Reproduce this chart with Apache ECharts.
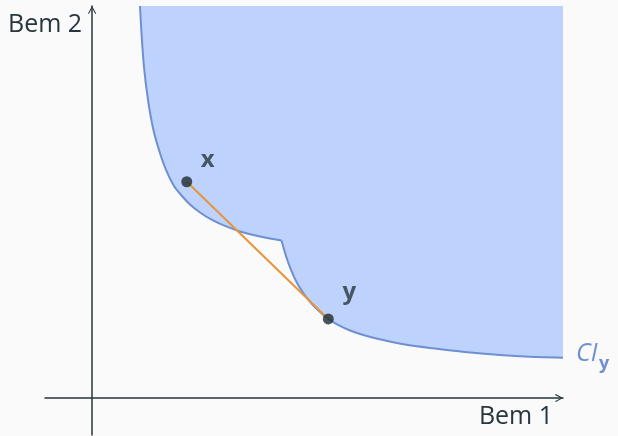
<!DOCTYPE html>
<html>
<head>
<meta charset="utf-8">
<script src="https://cdn.jsdelivr.net/npm/echarts@6/dist/echarts.min.js"></script>
<style>
html,body{margin:0;padding:0;background:#fafafa;}
#chart{width:618px;height:436px;}
</style>
</head>
<body>
<div id="chart"></div>
<script>
// Indifference curve CI_y, left branch (down to the kink)
const leftX = [1.017, 1.049, 1.102, 1.187, 1.293, 1.421, 1.570, 1.739, 1.909, 2.079, 2.292, 2.546, 2.822, 3.141, 3.566, 4.022];
const leftY = [8.50, 7.915, 7.178, 6.463, 5.856, 5.379, 4.946, 4.598, 4.381, 4.197, 4.024, 3.862, 3.732, 3.613, 3.503, 3.416];
// Indifference curve CI_y, right branch (from the kink)
const rightX = [4.022, 4.118, 4.224, 4.352, 4.500, 4.670, 4.840, 5.016, 5.222, 5.477, 5.796, 6.178, 6.645, 7.240, 7.916, 8.662, 9.299, 10.0];
const rightY = [3.416, 3.080, 2.777, 2.495, 2.257, 2.040, 1.867, 1.715, 1.585, 1.465, 1.357, 1.259, 1.162, 1.080, 1.000, 0.935, 0.897, 0.876];
// Bundles
const pointNames = ['x', 'y'];
const pointX = [2.01, 5.016];
const pointY = [4.69, 1.715];
// Axis names and curve label
const axisNames = ['Bem 1', 'Bem 2'];
const curveName = ['CI', 'y'];

const FONT = '"Open Sans", "Noto Sans", sans-serif';
const DARK = '#27363d';
const BLUE = '#6e8fd2';
const FILL = '#bdd3fd';
const arrowPath = 'path://M5,0 L10,9 L9,10 L5,2.6 L1,10 L0,9 Z';

const leftData = leftX.map((v, i) => [v, leftY[i]]);
const rightData = rightX.map((v, i) => [v, rightY[i]]);
// left fill carried a little into the right region (already covered) so no seam shows at the kink
const leftFillData = leftData.concat([[rightX[4], leftY[leftY.length - 1]]]);

const chart = echarts.init(document.getElementById('chart'));
const axisCommon = {
  axisLine: { onZero: true, symbol: ['none', arrowPath], symbolSize: [9, 8], symbolOffset: [0, -4],
    lineStyle: { color: DARK, width: 1.5 } },
  axisTick: { show: false }, axisLabel: { show: false }, splitLine: { show: false }
};
const option = {
  backgroundColor: '#fafafa',
  animation: false,
  grid: { left: 45, right: 55, top: 6, bottom: 1, containLabel: false },
  xAxis: Object.assign({ type: 'value', min: -1, max: 10 }, axisCommon),
  yAxis: Object.assign({ type: 'value', min: -0.8, max: 8.5 }, axisCommon),
  series: [
    {
      type: 'line', name: 'fillLeft', data: leftFillData,
      showSymbol: false, smooth: 0.3, z: 1,
      lineStyle: { width: 0, opacity: 0 },
      areaStyle: { origin: 'end', color: FILL, opacity: 1 }
    },
    {
      type: 'line', name: 'fillRight', data: rightData,
      showSymbol: false, smooth: 0.3, z: 1,
      lineStyle: { color: BLUE, width: 2 },
      areaStyle: { origin: 'end', color: FILL, opacity: 1 }
    },
    {
      type: 'line', name: 'lineLeft', data: leftData,
      showSymbol: false, smooth: 0.3, z: 2,
      lineStyle: { color: BLUE, width: 2 }
    },
    {
      type: 'line', name: 'segment',
      data: pointX.map((v, i) => [v, pointY[i]]),
      showSymbol: false, z: 3,
      lineStyle: { color: '#e8943a', width: 2 }
    },
    {
      type: 'scatter', name: 'bundles', z: 4,
      data: pointX.map((v, i) => ({ name: pointNames[i], value: [v, pointY[i]] })),
      symbolSize: 11,
      itemStyle: { color: '#1e2c32' },
      label: {
        show: true, position: 'inside', formatter: '{b}',
        fontFamily: FONT, fontWeight: 'bold', fontSize: 24, color: DARK
      },
      labelLayout: function (p) {
        const dy = p.dataIndex === 0 ? -22 : -27;
        return { dx: 21, dy: dy };
      }
    }
  ],
  graphic: [
    { type: 'text', x: 8, y: 25, style: { text: axisNames[1], font: '25px ' + FONT, fill: DARK, align: 'left', verticalAlign: 'middle' } },
    { type: 'text', x: 553, y: 417, style: { text: axisNames[0], font: '25px ' + FONT, fill: DARK, align: 'right', verticalAlign: 'middle' } },
    { type: 'text', x: 576, y: 354, style: { text: curveName[0], font: 'italic 25px ' + FONT, fill: BLUE, align: 'left', verticalAlign: 'middle' } },
    { type: 'text', x: 599, y: 364, style: { text: curveName[1], font: 'bold 18px ' + FONT, fill: BLUE, align: 'left', verticalAlign: 'middle' } }
  ]
};
chart.setOption(option);
</script>
</body>
</html>
